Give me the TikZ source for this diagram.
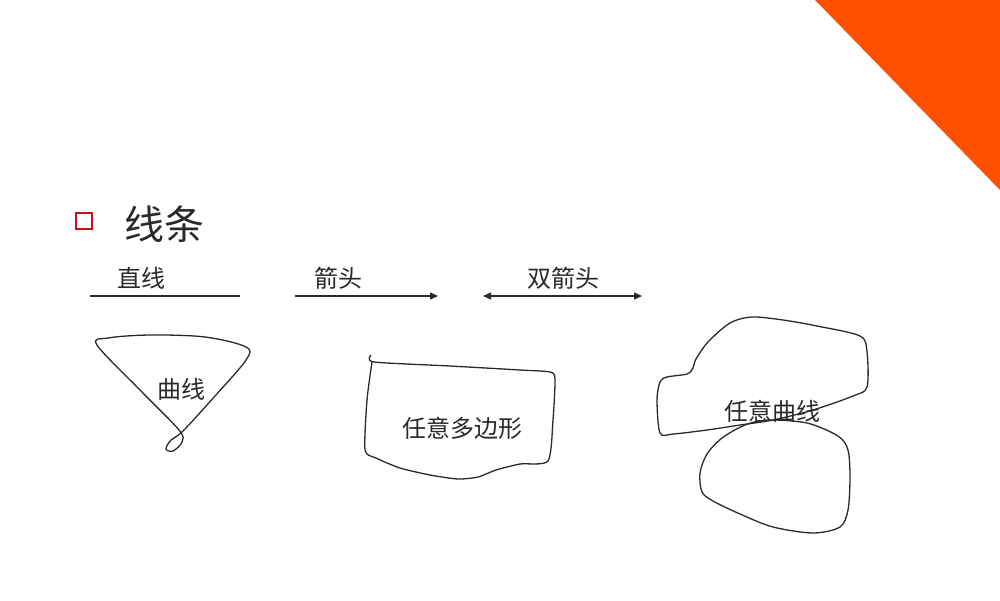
\documentclass[tikz,border=0pt]{standalone}
\usepackage{fontspec}
\setmainfont{Noto Sans CJK SC}
\usetikzlibrary{arrows.meta}
\definecolor{accent}{HTML}{FF5000}
\definecolor{bullet}{HTML}{C0161B}
\definecolor{ink}{HTML}{2A2A2A}
\tikzset{
  lbl/.style={font=\fontsize{24}{28}\selectfont, text=ink, inner sep=0pt},
  stroke/.style={draw=ink, line width=1.2pt},
  hand/.style={draw=ink, line width=1.3pt, line join=round},
  tip/.style={-{Triangle[length=8pt,width=7pt]}},
}
\begin{document}
\begin{tikzpicture}[x=1pt,y=-1pt]
\useasboundingbox (0,0) rectangle (1000,600);
\fill[white] (0,0) rectangle (1000,600);
% corner triangle
\fill[accent] (815,0) -- (1000,0) -- (1000,190) -- cycle;
% bullet and title
\node[draw=bullet, line width=1.8pt, minimum size=16pt, inner sep=0pt] (bul) at (84,221) {};
\node[font=\fontsize{40}{44}\selectfont, text=ink, inner sep=0pt, anchor=west] (title) at (124,224) {线条};
% straight line
\node[lbl] (l1) at (141,278) {直线};
\coordinate (a1) at (90,296); \coordinate (b1) at (240,296);
\draw[stroke] (a1) -- (b1);
% arrow
\node[lbl] (l2) at (338,278) {箭头};
\coordinate (a2) at (295,296); \coordinate (b2) at (438,296);
\draw[stroke, tip] (a2) -- (b2);
% double arrow
\node[lbl] (l3) at (563,278) {双箭头};
\coordinate (a3) at (483,296); \coordinate (b3) at (642,296);
\draw[stroke, {Triangle[length=8pt,width=7pt]}-{Triangle[length=8pt,width=7pt]}] (a3) -- (b3);
% curve with loop
\draw[hand] plot[smooth cycle, tension=0.55] coordinates {
  (97,345) (140,390) (179,430) (182,442) (173,451) (166,449) (171,440) (183,431)
  (215,396) (246,360) (246,347) (205,337) (150,335) (108,338)};
\node[lbl] (l4) at (181,389) {曲线};
% freeform polygon
\draw[hand] plot[smooth, tension=0.4] coordinates {
  (371,355) (374,362) (450,366) (520,370) (550,372) (555,379) (553,420) (548,461)
  (520,464) (496,470) (478,477) (458,479) (430,475) (400,468) (376,458) (365,450)
  (367,400) (372,362)};
\node[lbl] (l5) at (462,428) {任意多边形};
% freeform curves
\draw[hand] plot[smooth cycle, tension=0.5] coordinates {
  (660,433) (657,400) (660,382) (667,377) (687,374) (693,368) (696,359)
  (708,342) (730,323) (752,317) (783,320) (817,326) (860,336) (867,352)
  (867,387) (853,396) (813,410) (773,420) (740,425) (707,430) (673,434)};
\draw[hand] plot[smooth cycle, tension=0.5] coordinates {
  (722,438) (745,425) (768,420) (807,423) (838,436) (848,450) (850,478)
  (848,510) (840,527) (813,533) (773,527) (740,514) (713,501) (702,492)
  (700,473) (707,454)};
\node[lbl] (l6) at (772,411) {任意曲线};
\end{tikzpicture}
\end{document}
